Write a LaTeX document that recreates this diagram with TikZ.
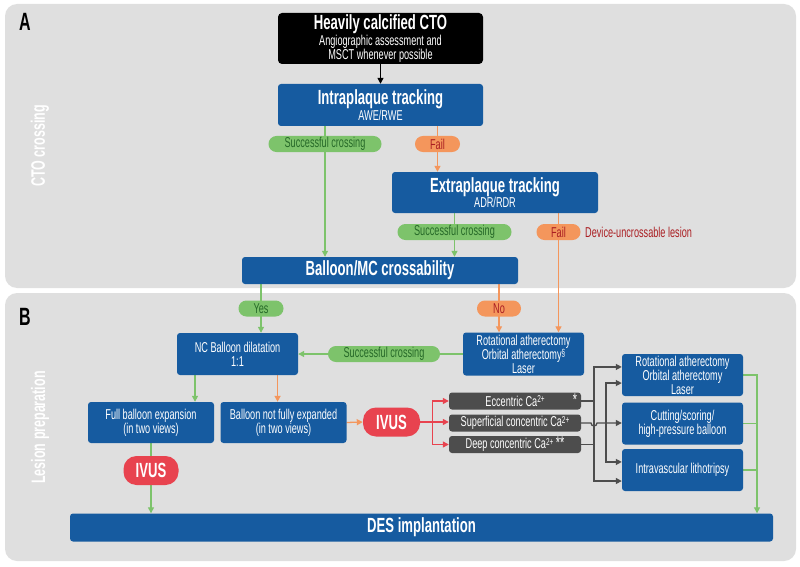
\documentclass[tikz,border=0pt]{standalone}
\usepackage{fontspec}
\setmainfont{Liberation Sans}[FakeStretch=0.64]
\usetikzlibrary{arrows.meta,calc}
\pgfdeclarelayer{panels}
\pgfdeclarelayer{lines}
\pgfsetlayers{panels,lines,main}
\definecolor{dblue}{RGB}{22,91,160}
\definecolor{panel}{RGB}{223,223,223}
\definecolor{pgreen}{RGB}{125,195,107}
\definecolor{tgreen}{RGB}{38,105,40}
\definecolor{porange}{RGB}{244,150,92}
\definecolor{tred}{RGB}{170,30,34}
\definecolor{ivred}{RGB}{232,67,79}
\definecolor{dgray}{RGB}{77,77,77}
\newcommand\ttlfont{\bfseries\fontsize{20.5}{20}\selectfont}
\newcommand\regfont{\fontsize{14.3}{13.8}\selectfont}
\newcommand\triofont{\fontsize{14.3}{12.4}\selectfont}
\newcommand\sectfont{\bfseries\fontsize{19.5}{19.5}\selectfont}
\newcommand\letterfont{\bfseries\fontsize{25}{25}\selectfont}
\newcommand\supr[1]{\raisebox{3.2pt}{\fontsize{10}{10}\selectfont #1}}
\newcommand\bigstars[1]{{\fontsize{17}{17}\selectfont #1}}
\begin{document}
\begin{tikzpicture}[x=1pt,y=-1pt,
  box/.style={fill=dblue, text=white, rounded corners=3pt, align=center, inner sep=0pt, font=\regfont},
  gpill/.style={fill=pgreen, text=tgreen, rounded corners=7.9pt, minimum height=16pt, inner sep=0pt, font=\regfont},
  opill/.style={fill=porange, text=tred, rounded corners=7.9pt, minimum height=16pt, inner sep=0pt, font=\regfont},
  ivus/.style={fill=ivred, text=white, rounded corners=13pt, minimum height=29pt, minimum width=56pt, inner sep=0pt, font=\ttlfont},
  cabox/.style={fill=dgray, text=white, rounded corners=3pt, minimum width=132pt, minimum height=17pt, inner sep=0pt, font=\regfont},
  tip/.style={-{Triangle[length=6pt,width=6pt]}},
  dtip/.style={{Triangle[length=6pt,width=6pt]}-{Triangle[length=6pt,width=6pt]}},
  gl/.style={draw=pgreen, line width=1.3pt},
  ol/.style={draw=porange, line width=1.3pt},
  rl/.style={draw=ivred, line width=1.3pt},
  kl/.style={draw=dgray, line width=1.3pt},
  bl/.style={draw=black, line width=1.3pt},
]
\useasboundingbox (0,0) rectangle (800,567);
\begin{pgfonlayer}{panels}
\fill[panel, rounded corners=12pt] (5,4) rectangle (796,288);
\fill[panel, rounded corners=12pt] (5,293) rectangle (796,561);
\end{pgfonlayer}

% panel labels
\node[font=\letterfont] (pa) at (25,21.5) {A};
\node[font=\letterfont] (pb) at (25,316.5) {B};
\node[rotate=90, text=white, font=\sectfont] (la) at (40,146) {CTO crossing};
\node[rotate=90, text=white, font=\sectfont] (lb) at (40,427.5) {Lesion preparation};

% part A
\node[box, fill=black, rounded corners=4pt, minimum width=205pt, minimum height=51pt] (cto) at (380.5,38.5)
  {{\ttlfont Heavily calcified CTO}\\Angiographic assessment and\\MSCT whenever possible};
\node[box, minimum width=205pt, minimum height=42pt] (intra) at (380.5,105)
  {{\ttlfont Intraplaque tracking}\\AWE/RWE};
\node[gpill, minimum width=113pt] (sc1) at (325,144) {Successful crossing};
\node[opill, minimum width=45pt] (fail1) at (437.5,144) {Fail};
\node[box, minimum width=206pt, minimum height=41pt] (extra) at (495,192.5)
  {{\ttlfont Extraplaque tracking}\\ADR/RDR};
\node[gpill, minimum width=114pt] (sc2) at (454.5,232) {Successful crossing};
\node[opill, minimum width=44pt] (fail2) at (558.5,232) {Fail};
\node[anchor=west, text=tred, font=\regfont, inner sep=0pt] (dev) at (585,232) {Device-uncrossable lesion};
\node[box, font=\ttlfont, minimum width=276pt, minimum height=27pt] (balloon) at (380,270.5) {Balloon/MC crossability};

% part B
\node[gpill, minimum width=45pt] (yes) at (261,308.5) {Yes};
\node[opill, minimum width=44pt] (no) at (499,308.5) {No};
\node[box, minimum width=121pt, minimum height=42pt] (nc) at (237.5,354) {NC Balloon dilatation\\1:1};
\node[box, font=\triofont, minimum width=121pt, minimum height=43pt] (rot1) at (523.5,354)
  {Rotational atherectomy\\Orbital atherectomy\supr{§}\\Laser};
\node[gpill, minimum width=112pt] (sc3) at (384,354) {Successful crossing};
\node[box, minimum width=126pt, minimum height=41pt] (full) at (151,422.5) {Full balloon expansion\\(in two views)};
\node[box, minimum width=126pt, minimum height=41pt] (notfull) at (283.5,422.5) {Balloon not fully expanded\\(in two views)};
\node[ivus, minimum width=57pt] (ivus1) at (391.5,422) {IVUS};
\node[ivus, minimum width=55pt] (ivus2) at (151,470.5) {IVUS};
\node[cabox] (ecc) at (515,401) {Eccentric Ca\supr{2+}};
\node[anchor=east, text=white, font=\fontsize{17}{17}\selectfont, inner sep=0pt] (eccstar) at ($(ecc.east)+(-4,-1.5)$) {*};
\node[cabox] (sup) at (515,423) {Superficial concentric Ca\supr{2+}};
\node[cabox] (deep) at (515,444.5) {Deep concentric Ca\supr{2+} \bigstars{**}};
\node[box, font=\triofont, minimum width=121pt, minimum height=42pt] (rot2) at (682.5,375)
  {Rotational atherectomy\\Orbital atherectomy\\Laser};
\node[box, font=\triofont, minimum width=121pt, minimum height=42pt] (cut) at (682.5,423.5)
  {Cutting/scoring/\\high-pressure balloon};
\node[box, minimum width=121pt, minimum height=42pt] (ivl) at (682.5,470) {Intravascular lithotripsy};
\node[box, font=\ttlfont, minimum width=703pt, minimum height=28pt] (des) at (421.5,527.5) {DES implantation};

% helper coordinates
\coordinate (ncl) at ($(nc.south west)!0.15!(nc.south east)$);
\coordinate (ncr) at ($(nc.south west)!0.83!(nc.south east)$);
\coordinate (rb) at ($(ivus1.east)+(12,0)$);
\coordinate (v1) at (594,0);
\coordinate (v2) at (606,0);
\coordinate (gv) at (757,0);
\coordinate (r1) at ($(rot2.north west)!0.31!(rot2.south west)$);
\coordinate (r2) at ($(rot2.north west)!0.69!(rot2.south west)$);
\coordinate (l1) at ($(ivl.north west)!0.31!(ivl.south west)$);
\coordinate (l2) at ($(ivl.north west)!0.76!(ivl.south west)$);

\begin{pgfonlayer}{lines}
\draw[bl,tip] (cto.south) -- (intra.north);
\draw[gl,tip] (intra.south -| sc1) -- (balloon.north -| sc1);
\draw[ol,tip] (intra.south -| fail1) -- (extra.north -| fail1);
\draw[gl,tip] (extra.south -| sc2) -- (balloon.north -| sc2);
\draw[ol,tip] (extra.south -| fail2) -- (rot1.north -| fail2);
\draw[gl,tip] (balloon.south -| yes) -- (nc.north -| yes);
\draw[ol,tip] (balloon.south -| no) -- (rot1.north -| no);
\draw[gl,tip] (rot1.west) -- (nc.east);
\draw[gl,tip] (ncl) -- (ncl |- full.north);
\draw[ol,tip] (ncr) -- (ncr |- notfull.north);
\draw[ol,tip] (notfull.east) -- (ivus1.west);
\draw[gl,tip] (full.south) -- (full.south |- des.north);
% IVUS to calcium types
\draw[rl] (rb |- ecc.west) -- (rb |- deep.west);
\draw[rl,tip] (ivus1.east) -- (ivus1.east -| sup.west);
\draw[rl,tip] (rb |- ecc.west) -- (ecc.west);
\draw[rl,tip] (rb |- deep.west) -- (deep.west);
% calcium types to devices
\draw[kl] (ecc.east) -- (ecc.east -| v1);
\draw[kl] (deep.east) -- (deep.east -| v1);
\draw[kl,dtip] (r1) -- (v1 |- r1) -- (v1 |- l2) -- (l2);
\draw[kl,dtip] (r2) -- (v2 |- r2) -- (v2 |- l1) -- (l1);
\draw[kl,tip] (sup.east) -- ($(sup.east -| v1)+(-3,0)$) arc[start angle=180, end angle=0, radius=3] -- (sup.east -| cut.west);
% devices to DES
\draw[gl] (cut.east) -- (cut.east -| gv);
\draw[gl] (ivl.east) -- (ivl.east -| gv);
\draw[gl,tip] (rot2.east) -| (des.north -| gv);
\end{pgfonlayer}
\end{tikzpicture}
\end{document}
